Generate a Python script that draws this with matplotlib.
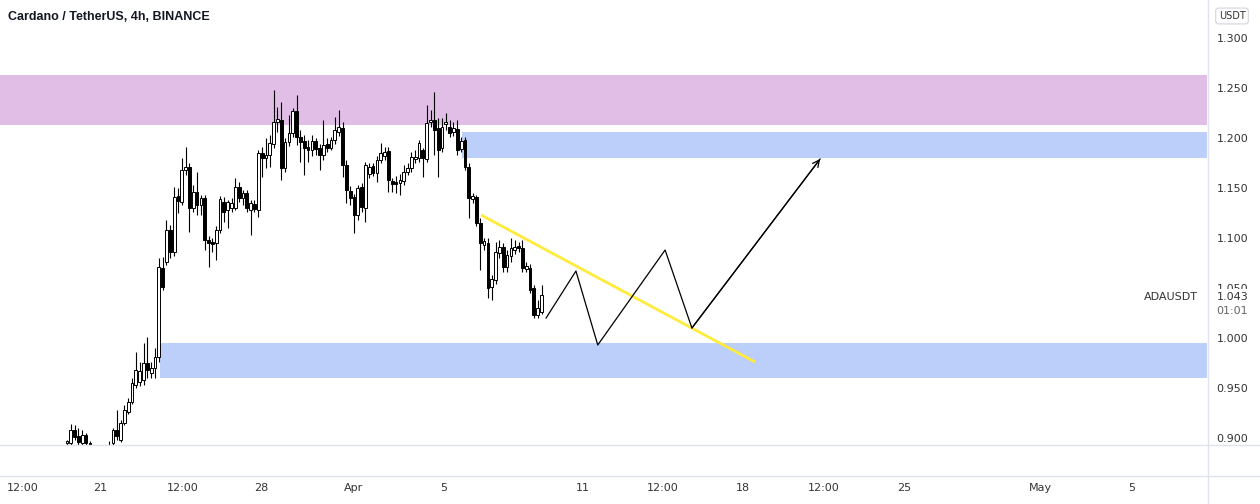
import numpy as np
import matplotlib
matplotlib.use("Agg")
import matplotlib.pyplot as plt
from matplotlib.patches import Rectangle
from matplotlib.lines import Line2D

# 4h candles, ADA/USDT
opens = [0.895, 0.895, 0.908, 0.902, 0.895, 0.903, 0.895, 0.880, 0.876, 0.872,
         0.883, 0.888, 0.895, 0.908, 0.898, 0.915, 0.926, 0.936, 0.953, 0.956,
         0.958, 0.975, 0.965, 0.970, 0.981, 1.070, 1.076, 1.108, 1.086, 1.142,
         1.136, 1.168, 1.171, 1.130, 1.146, 1.133, 1.140, 1.098, 1.095, 1.095,
         1.108, 1.136, 1.128, 1.130, 1.130, 1.151, 1.140, 1.145, 1.128, 1.134,
         1.128, 1.185, 1.180, 1.183, 1.194, 1.216, 1.218, 1.170, 1.196, 1.205,
         1.227, 1.201, 1.197, 1.191, 1.188, 1.197, 1.190, 1.183, 1.194, 1.190,
         1.198, 1.206, 1.210, 1.173, 1.147, 1.141, 1.123, 1.151, 1.130, 1.164,
         1.172, 1.165, 1.178, 1.182, 1.187, 1.157, 1.156, 1.155, 1.157, 1.166,
         1.170, 1.179, 1.180, 1.188, 1.179, 1.216, 1.218, 1.210, 1.190, 1.214,
         1.211, 1.206, 1.209, 1.189, 1.198, 1.171, 1.139, 1.141, 1.115, 1.093,
         1.095, 1.051, 1.058, 1.085, 1.091, 1.071, 1.082, 1.088, 1.091, 1.090,
         1.069, 1.070, 1.050, 1.023, 1.026]
highs = [0.898, 0.914, 0.913, 0.910, 0.908, 0.905, 0.897, 0.886, 0.883, 0.888,
         0.892, 0.897, 0.910, 0.928, 0.918, 0.933, 0.940, 0.960, 0.986, 0.976,
         0.995, 1.001, 0.976, 0.990, 1.080, 1.081, 1.118, 1.113, 1.151, 1.150,
         1.180, 1.191, 1.175, 1.153, 1.166, 1.143, 1.143, 1.102, 1.100, 1.112,
         1.142, 1.141, 1.138, 1.140, 1.160, 1.156, 1.148, 1.148, 1.138, 1.138,
         1.188, 1.191, 1.200, 1.203, 1.248, 1.231, 1.236, 1.200, 1.223, 1.230,
         1.243, 1.208, 1.203, 1.198, 1.203, 1.200, 1.194, 1.218, 1.200, 1.201,
         1.221, 1.228, 1.216, 1.178, 1.152, 1.144, 1.153, 1.155, 1.176, 1.175,
         1.175, 1.182, 1.195, 1.191, 1.191, 1.160, 1.162, 1.164, 1.173, 1.175,
         1.186, 1.188, 1.198, 1.190, 1.233, 1.228, 1.246, 1.220, 1.220, 1.225,
         1.218, 1.216, 1.218, 1.201, 1.201, 1.175, 1.145, 1.143, 1.120, 1.100,
         1.100, 1.063, 1.096, 1.098, 1.095, 1.088, 1.100, 1.098, 1.096, 1.098,
         1.076, 1.074, 1.053, 1.038, 1.053]
lows = [0.892, 0.892, 0.898, 0.892, 0.892, 0.890, 0.873, 0.868, 0.863, 0.866,
        0.876, 0.886, 0.892, 0.898, 0.896, 0.913, 0.924, 0.934, 0.950, 0.952,
        0.953, 0.960, 0.960, 0.960, 0.976, 1.048, 1.073, 1.080, 1.082, 1.125,
        1.133, 1.163, 1.106, 1.126, 1.123, 1.123, 1.088, 1.071, 1.086, 1.078,
        1.105, 1.116, 1.110, 1.126, 1.128, 1.136, 1.133, 1.126, 1.103, 1.126,
        1.121, 1.161, 1.170, 1.171, 1.190, 1.206, 1.158, 1.166, 1.192, 1.201,
        1.193, 1.176, 1.163, 1.176, 1.182, 1.183, 1.168, 1.178, 1.186, 1.188,
        1.194, 1.202, 1.161, 1.135, 1.133, 1.105, 1.118, 1.126, 1.116, 1.160,
        1.162, 1.156, 1.175, 1.178, 1.146, 1.146, 1.145, 1.143, 1.153, 1.163,
        1.166, 1.175, 1.176, 1.161, 1.176, 1.211, 1.183, 1.161, 1.186, 1.208,
        1.201, 1.202, 1.183, 1.186, 1.168, 1.120, 1.135, 1.112, 1.068, 1.088,
        1.040, 1.038, 1.054, 1.080, 1.066, 1.066, 1.076, 1.084, 1.086, 1.066,
        1.066, 1.045, 1.020, 1.020, 1.024]
closes = [0.897, 0.908, 0.901, 0.896, 0.903, 0.895, 0.880, 0.876, 0.872, 0.883,
          0.888, 0.893, 0.908, 0.902, 0.915, 0.928, 0.936, 0.955, 0.968, 0.967,
          0.975, 0.968, 0.970, 0.981, 1.071, 1.051, 1.108, 1.086, 1.141, 1.137,
          1.168, 1.171, 1.130, 1.146, 1.133, 1.140, 1.098, 1.095, 1.094, 1.108,
          1.139, 1.126, 1.136, 1.135, 1.151, 1.140, 1.145, 1.130, 1.135, 1.129,
          1.185, 1.180, 1.183, 1.195, 1.216, 1.219, 1.170, 1.196, 1.205, 1.227,
          1.201, 1.196, 1.190, 1.188, 1.197, 1.189, 1.183, 1.193, 1.190, 1.198,
          1.208, 1.211, 1.173, 1.148, 1.140, 1.123, 1.150, 1.131, 1.173, 1.171,
          1.165, 1.178, 1.185, 1.186, 1.158, 1.154, 1.154, 1.158, 1.166, 1.170,
          1.181, 1.181, 1.195, 1.180, 1.215, 1.218, 1.208, 1.188, 1.211, 1.216,
          1.205, 1.210, 1.188, 1.197, 1.171, 1.140, 1.142, 1.115, 1.095, 1.097,
          1.050, 1.059, 1.086, 1.091, 1.071, 1.083, 1.090, 1.091, 1.090, 1.070,
          1.072, 1.048, 1.023, 1.030, 1.043]

# drawn zones (price bounds, first candle index where they start)
supply_zone = (1.213, 1.263)
upper_zone = (1.180, 1.206)
upper_zone_start = 103.2
lower_zone = (0.960, 0.995)
lower_zone_start = 24.3

# trend line and projected path (candle index, price)
trend_x = [108.2, 179.8]
trend_y = [1.123, 0.976]
path_x = [125.2, 133.0, 138.7, 156.3, 163.3, 196.8]
path_y = [1.020, 1.067, 0.993, 1.088, 1.010, 1.179]

time_pos = [-11.6, 8.6, 30.3, 50.7, 75.0, 98.5, 134.8, 155.7, 176.6, 197.8, 218.7, 254.5, 278.3]
time_labels = ["12:00", "21", "12:00", "28", "Apr", "5", "11", "12:00", "18", "12:00", "25", "May", "5"]
price_ticks = [0.900, 0.950, 1.000, 1.050, 1.100, 1.150, 1.200, 1.250, 1.300]
last_price = 1.043

W, H = 1260, 504
fig = plt.figure(figsize=(W / 100, H / 100), dpi=100)
fig.patch.set_facecolor("white")
ax = fig.add_axes([0, 59 / H, 1207 / W, 445 / H])

o = np.array(opens); h = np.array(highs); l = np.array(lows); c = np.array(closes)
x = np.arange(len(o))
up = c >= o
body_lo = np.minimum(o, c)
body_h = np.maximum(np.abs(c - o), 0.0015)

ax.vlines(x, l, h, color="black", lw=0.8, zorder=3)
ax.bar(x, body_h, bottom=body_lo, width=0.72,
       color=np.where(up, "white", "black"), edgecolor="black", lw=0.7, zorder=4)

xmin, xmax = -17.5, 297.9
ax.set_xlim(xmin, xmax)
ax.set_ylim(0.893, 1.338)

ax.axhspan(supply_zone[0], supply_zone[1], color="#e1bee6", lw=0, zorder=1)
ax.add_patch(Rectangle((upper_zone_start, upper_zone[0]), xmax - upper_zone_start,
                       upper_zone[1] - upper_zone[0], color="#bccefa", lw=0, zorder=1))
ax.add_patch(Rectangle((lower_zone_start, lower_zone[0]), xmax - lower_zone_start,
                       lower_zone[1] - lower_zone[0], color="#bccefa", lw=0, zorder=1))

ax.plot(trend_x, trend_y, color="#ffeb3b", lw=2.0, solid_capstyle="butt", zorder=5)
ax.plot(path_x, path_y, color="black", lw=0.9, zorder=5)
ax.annotate("", xy=(path_x[-1], path_y[-1]), xytext=(path_x[-2], path_y[-2]),
            arrowprops=dict(arrowstyle="->", color="black", lw=0.9,
                            mutation_scale=12, shrinkA=0, shrinkB=0), zorder=5)

for s in ["top", "left", "right", "bottom"]:
    ax.spines[s].set_visible(False)

ax.set_xticks(time_pos)
ax.set_xticklabels(time_labels)
ax.tick_params(axis="x", length=0, pad=27.5, labelsize=8, labelcolor="#333333")
ax.yaxis.tick_right()
ax.set_yticks(price_ticks)
ax.set_yticklabels([f"{p:.3f}" for p in price_ticks])
ax.tick_params(axis="y", length=0, pad=7, labelsize=8, labelcolor="#333333")

# last price label
ax.annotate(f"{last_price:.3f}", xy=(1, last_price), xycoords=("axes fraction", "data"),
            xytext=(7, -1.5), textcoords="offset points", ha="left", va="center",
            fontsize=8, color="#333333", annotation_clip=False, zorder=10,
            bbox=dict(boxstyle="square,pad=0.25", fc="white", ec="none"))
ax.annotate("01:01", xy=(1, last_price), xycoords=("axes fraction", "data"),
            xytext=(7, -11.5), textcoords="offset points", ha="left", va="center",
            fontsize=8, color="#666666", annotation_clip=False, zorder=10)
ax.annotate("ADAUSDT", xy=(1198 / 1207, last_price), xycoords=("axes fraction", "data"),
            xytext=(0, -1.5), textcoords="offset points", ha="right", va="center",
            fontsize=8, color="#333333", zorder=10)

# pane separators
sep = "#e0e3eb"
fig.add_artist(Line2D([1207.5 / W] * 2, [0, 1], color=sep, lw=1, transform=fig.transFigure))
fig.add_artist(Line2D([0, 1], [59 / H] * 2, color=sep, lw=1, transform=fig.transFigure))
fig.add_artist(Line2D([0, 1], [28 / H] * 2, color=sep, lw=1, transform=fig.transFigure))

fig.text(8 / W, 1 - 17 / H, "Cardano / TetherUS, 4h, BINANCE", ha="left", va="center",
         fontsize=9, fontweight="bold", color="#131722", family="Liberation Sans")
fig.text(1232 / W, 1 - 16 / H, "USDT", ha="center", va="center", fontsize=7, color="#333333",
         bbox=dict(boxstyle="round,pad=0.3,rounding_size=0.3", fc="white", ec="#d1d4dc", lw=0.8))

fig.savefig("out.png", dpi=100, facecolor="white")
